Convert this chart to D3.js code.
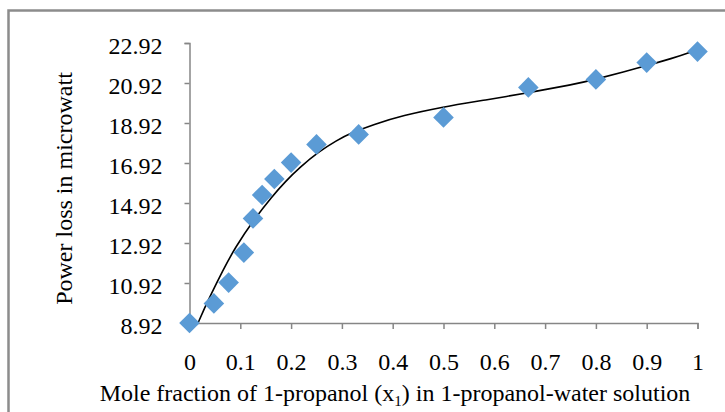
<!DOCTYPE html>
<html>
<head>
<meta charset="utf-8">
<script src="https://cdn.jsdelivr.net/npm/d3@7"></script>
<style>
  html, body { margin: 0; padding: 0; background: #fff; }
  svg { display: block; }
  text { font-family: "Liberation Serif", "Times New Roman", serif; fill: #000; }
</style>
</head>
<body>
<svg id="chart" width="725" height="412"></svg>
<script>
// Data
const moleFraction = [0, 0.048, 0.077, 0.107, 0.125, 0.143, 0.167, 0.2, 0.25, 0.333, 0.5, 0.667, 0.8, 0.9, 1];
const powerLoss    = [8.92, 9.90, 10.94, 12.44, 14.15, 15.32, 16.12, 16.94, 17.85, 18.35, 19.20, 20.70, 21.10, 21.94, 22.49];
const trendX = [0.017, 0.030, 0.040, 0.065, 0.090, 0.126, 0.162, 0.188, 0.218, 0.254, 0.290, 0.316, 0.362, 0.421, 0.493, 0.585, 0.664, 0.756, 0.795, 0.887, 0.950, 0.998];
const trendY = [8.935, 9.68, 10.23, 11.52, 12.70, 14.07, 15.23, 15.98, 16.72, 17.48, 18.05, 18.40, 18.85, 19.30, 19.70, 20.08, 20.42, 20.85, 21.07, 21.70, 22.14, 22.57];
const xTicks = [0, 0.1, 0.2, 0.3, 0.4, 0.5, 0.6, 0.7, 0.8, 0.9, 1];
const yTicks = [8.92, 10.92, 12.92, 14.92, 16.92, 18.92, 20.92, 22.92];
const xTitle = "Mole fraction of 1-propanol (x";
const xTitleSub = "1";
const xTitleEnd = ") in 1-propanol-water solution";
const yTitle = "Power loss in microwatt";

const svg = d3.select("#chart");
const axisColor = "#868686";

// outer frame
svg.append("path")
  .attr("d", "M8.5,420 L8.5,10.5 L730,10.5")
  .attr("fill", "none").attr("stroke", "#8c8c8c").attr("stroke-width", 2.5);

const x = d3.scaleLinear().domain([0, 1]).range([189.5, 697.5]);
const y = d3.scaleLinear().domain([8.92, 22.92]).range([323, 43]);

// x axis
const xAxis = svg.append("g").attr("transform", "translate(0,323)")
  .call(d3.axisBottom(x).tickValues(xTicks).tickFormat(d3.format("")).tickSize(6).tickPadding(10));
xAxis.select(".domain").attr("stroke", axisColor).attr("stroke-width", 1.5);
xAxis.selectAll(".tick line").attr("stroke", axisColor).attr("stroke-width", 1.5);
xAxis.selectAll(".tick text").attr("font-size", 24).attr("font-family", "Liberation Serif").attr("fill", "#000")
  .attr("dy", null).attr("y", 46.5);

// y axis
const yAxis = svg.append("g").attr("transform", "translate(189.5,0)")
  .call(d3.axisLeft(y).tickValues(yTicks).tickFormat(d3.format(".2f")).tickSize(5).tickPadding(22));
yAxis.select(".domain").attr("stroke", axisColor).attr("stroke-width", 1.5);
yAxis.selectAll(".tick line").attr("stroke", axisColor).attr("stroke-width", 1.5);
yAxis.selectAll(".tick text").attr("font-size", 24).attr("font-family", "Liberation Serif").attr("fill", "#000")
  .attr("dy", "0.42em");

// trend line
const trend = trendX.map((v, i) => [v, trendY[i]]);
svg.append("path")
  .datum(trend)
  .attr("d", d3.line().x(d => x(d[0])).y(d => y(d[1])).curve(d3.curveBasis))
  .attr("fill", "none").attr("stroke", "#000").attr("stroke-width", 1.6);

// points
const sym = d3.symbol(d3.symbolSquare).size(212);
svg.append("g").selectAll("path")
  .data(moleFraction.map((v, i) => [v, powerLoss[i]]))
  .join("path")
  .attr("d", sym)
  .attr("transform", d => `translate(${x(d[0])},${y(d[1])}) rotate(45)`)
  .attr("fill", "#5B9BD5");

// titles
const xt = svg.append("text").attr("x", 395).attr("y", 401).attr("text-anchor", "middle").attr("font-size", 24);
xt.append("tspan").text(xTitle);
xt.append("tspan").attr("font-size", 15).attr("dy", 5).text(xTitleSub);
xt.append("tspan").attr("dy", -5).text(xTitleEnd);

svg.append("text")
  .attr("transform", "translate(72,188.5) rotate(-90)")
  .attr("text-anchor", "middle").attr("font-size", 24)
  .text(yTitle);
</script>
</body>
</html>
